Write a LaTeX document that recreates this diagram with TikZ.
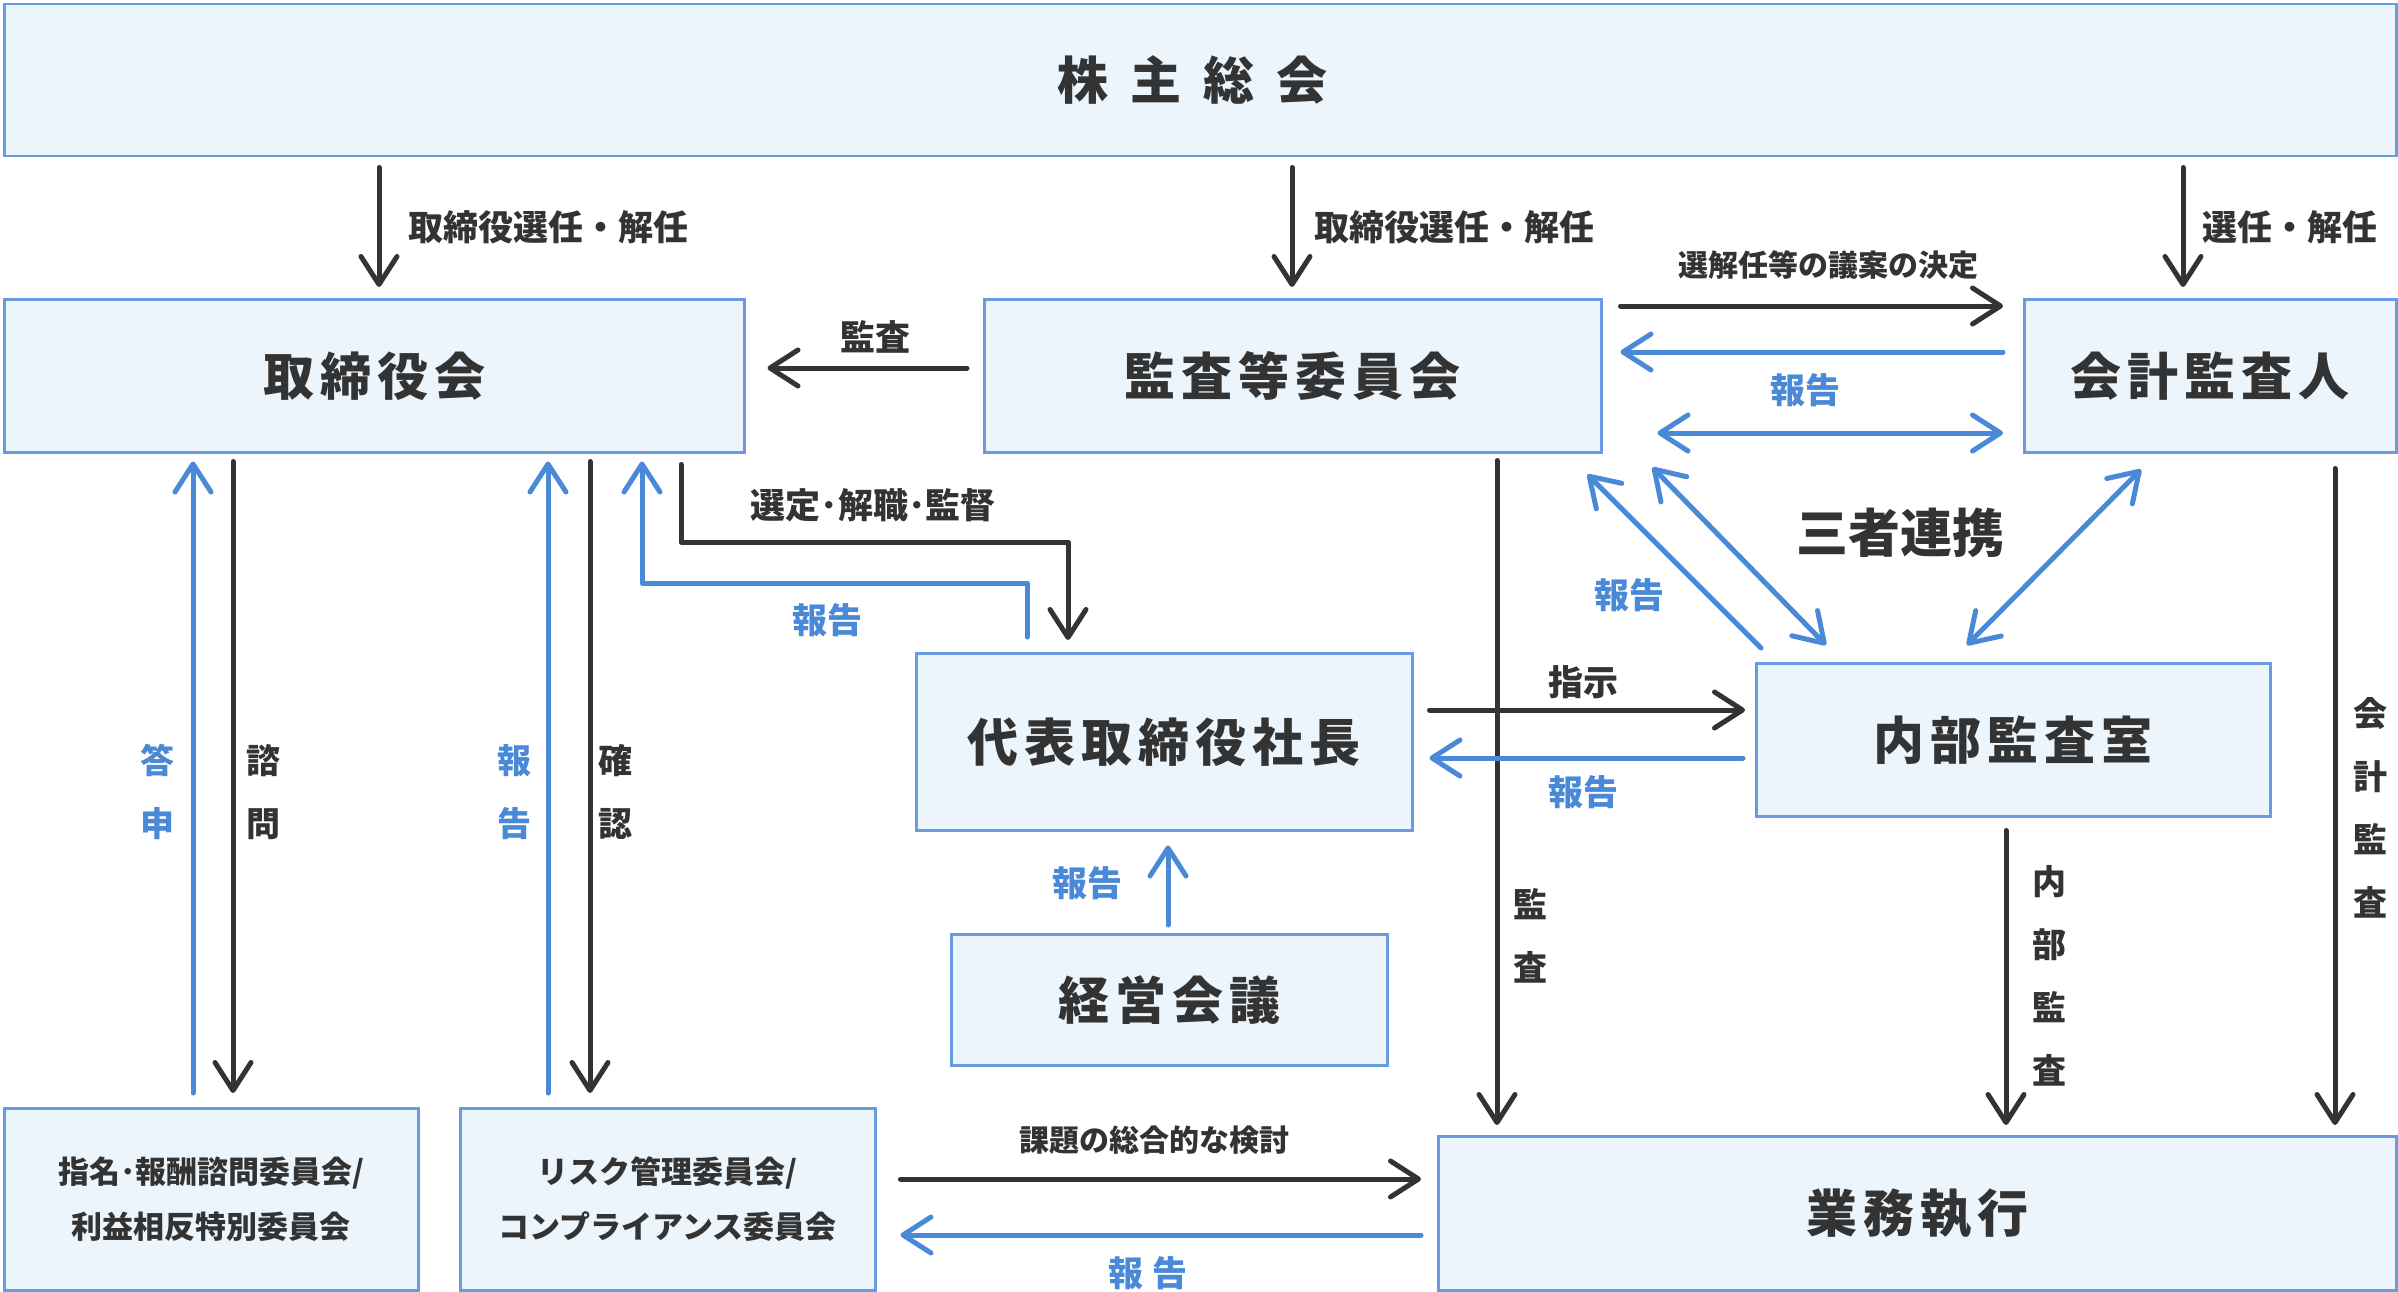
\documentclass[tikz,border=0pt]{standalone}
\usepackage{fontspec}
\setmainfont{Noto Sans CJK JP}
\usetikzlibrary{arrows.meta,calc}
\definecolor{tx}{HTML}{333333}
\definecolor{bl}{HTML}{4A88D8}
\definecolor{bd}{HTML}{6A9BE0}
\definecolor{bf}{HTML}{ECF5FC}
\newcommand\kspc{\hspace{6pt}}
\newcommand\wspc{\hspace{22pt}}
\tikzset{
  box/.style={draw=bd, fill=bf, line width=2.5pt, inner sep=0pt, anchor=north west,
    text=tx, font=\fontsize{51}{60}\selectfont\bfseries},
  small/.style={box, align=center, font=\fontsize{31}{55}\selectfont\bfseries},
  tipb/.tip={Straight Barb[length=28pt,width=36pt,line width=5pt,round]},
  arr/.style={line width=5pt, draw=tx, -tipb, line cap=round, line join=round},
  barr/.style={arr, draw=bl},
  dbarr/.style={line width=5pt, draw=bl, tipb-tipb, line cap=round, line join=round},
  lab/.style={text=tx, inner sep=0pt, font=\fontsize{35}{42}\selectfont\bfseries},
  blab/.style={lab, text=bl},
  slab/.style={lab, font=\fontsize{30}{36}\selectfont\bfseries},
  vlab/.style={lab, align=center, font=\fontsize{34}{63}\selectfont\bfseries},
  bvlab/.style={vlab, text=bl},
}
\begin{document}
\begin{tikzpicture}[x=1pt,y=-1pt]
\useasboundingbox (0,0) rectangle (2398,1292);
\fill[white] (0,0) rectangle (2398,1292);

% boxes
\node[box, minimum width=2392pt, minimum height=152pt] (sh) at (3,3) {株\wspc 主\wspc 総\wspc 会\kern16pt\relax};
\node[box, minimum width=740pt, minimum height=153pt] (tb) at (3,298) {取\kspc 締\kspc 役\kspc 会};
\node[box, minimum width=617pt, minimum height=153pt] (ka) at (983,298) {監\kspc 査\kspc 等\kspc 委\kspc 員\kspc 会};
\node[box, minimum width=372pt, minimum height=153pt] (ac) at (2023,298) {会\kspc 計\kspc 監\kspc 査\kspc 人};
\node[box, minimum width=496pt, minimum height=177pt] (ceo) at (915,652) {代\kspc 表\kspc 取\kspc 締\kspc 役\kspc 社\kspc 長};
\node[box, minimum width=436pt, minimum height=131pt] (mm) at (950,933) {経\kspc 営\kspc 会\kspc 議};
\node[box, minimum width=514pt, minimum height=153pt] (ia) at (1755,662) {内\kspc 部\kspc 監\kspc 査\kspc 室};
\node[small, minimum width=414pt, minimum height=182pt] (nc) at (3,1107) {指名･報酬諮問委員会/\\利益相反特別委員会};
\node[small, minimum width=415pt, minimum height=182pt] (rc) at (459,1107) {リスク管理委員会/\\コンプライアンス委員会};
\node[box, minimum width=958pt, minimum height=154pt] (ge) at (1437,1135) {\raisebox{-6pt}{業\kspc 務\kspc 執\kspc 行}};

% x / y helper coordinates
\coordinate (x1) at (379,0);
\coordinate (x2) at (1292,0);
\coordinate (x3) at (2183,0);
\coordinate (y4) at (0,368);
\coordinate (y5) at (0,306);
\coordinate (y6) at (0,352);
\coordinate (y7) at (0,433);
\coordinate (xv1) at (1497,0);
\coordinate (xv2) at (2006,0);
\coordinate (xv3) at (2335,0);
\coordinate (yh1) at (0,710);
\coordinate (yh2) at (0,758);
\coordinate (xm) at (1168,0);
\coordinate (m1) at (681,542);
\coordinate (m2) at (1068,542);
\coordinate (n1) at (1027,583);
\coordinate (n2) at (642,583);
\coordinate (xl1) at (193,0);
\coordinate (xl2) at (233,0);
\coordinate (xl3) at (548,0);
\coordinate (xl4) at (590,0);
\coordinate (yb1) at (0,1179);
\coordinate (yb2) at (0,1235);

% top arrows
\draw[arr, shorten <=10pt, shorten >=11pt] (sh.south -| x1) -- (tb.north -| x1);
\draw[arr, shorten <=10pt, shorten >=11pt] (sh.south -| x2) -- (ka.north -| x2);
\draw[arr, shorten <=10pt, shorten >=11pt] (sh.south -| x3) -- (ac.north -| x3);
\node[lab, anchor=west] (l1) at (408,227) {取締役選任・解任};
\node[lab, anchor=west] (l2) at (1314,227) {取締役選任・解任};
\node[lab, anchor=west] (l3) at (2202,227) {選任・解任};

% kansa -> torishimariyakukai
\draw[arr, shorten <=16pt, shorten >=22pt] (ka.west |- y4) -- (tb.east |- y4);
\node[lab] (l4) at (875,337) {監査};

% ka <-> ac
\draw[arr, shorten <=18pt, shorten >=20pt] (ka.east |- y5) -- (ac.west |- y5);
\node[slab] (l5) at (1828,265) {選解任等の議案の決定};
\draw[barr, shorten <=20pt, shorten >=18pt] (ac.west |- y6) -- (ka.east |- y6);
\node[blab] (l6) at (1805,390) {報告};
\draw[dbarr, shorten <=55pt, shorten >=20pt] (ka.east |- y7) -- (ac.west |- y7);

% three-way cooperation
\draw[barr] ($(ia.north west)+(6,-14)$) -- ($(ka.south east)+(-15,21)$);
\draw[dbarr] ($(ka.south east)+(50,14)$) -- ($(ia.north west)+(71,-17)$);
\draw[dbarr] ($(ac.south west)+(118,16)$) -- ($(ia.north west)+(212,-17)$);
\node[lab, font=\fontsize{52}{60}\selectfont\bfseries] (l7) at (1900,533) {三者連携};
\node[blab] (l8) at (1629,595) {報告};

% verticals to gyomu shikko
\draw[arr, shorten <=7pt, shorten >=10pt] (ka.south -| xv1) -- (ge.north -| xv1);
\draw[arr, shorten <=13pt, shorten >=10pt] (ia.south -| xv2) -- (ge.north -| xv2);
\draw[arr, shorten <=15pt, shorten >=10pt] (ac.south -| xv3) -- (ge.north -| xv3);
\node[vlab] (l9) at (1530,936) {監\\査};
\node[vlab] (l10) at (2049,976) {内\\部\\監\\査};
\node[vlab] (l11) at (2370,808) {会\\計\\監\\査};

% ceo <-> ia
\draw[arr, shorten <=16pt, shorten >=10pt] (ceo.east |- yh1) -- (ia.west |- yh1);
\node[lab] (l12) at (1583,682) {指示};
\draw[barr, shorten <=12pt, shorten >=16pt] (ia.west |- yh2) -- (ceo.east |- yh2);
\node[blab] (l13) at (1583,792) {報告};

% keiei kaigi -> ceo
\draw[barr, shorten <=8pt, shorten >=14pt] (mm.north -| xm) -- (ceo.south -| xm);
\node[blab] (l14) at (1087,883) {報告};

% elbows
\draw[arr, shorten <=11pt, shorten >=12pt] (tb.south -| m1) -- (m1) -- (m2) -- (ceo.north -| m2);
\node[lab] (l15) at (873,505) {選定･解職･監督};
\draw[barr, shorten <=15pt, shorten >=8pt] (ceo.north -| n1) -- (n1) -- (n2) -- (tb.south -| n2);
\node[blab] (l16) at (827,620) {報告};

% left verticals
\draw[barr, shorten <=14pt, shorten >=8pt] (nc.north -| xl1) -- (tb.south -| xl1);
\draw[arr, shorten <=8pt, shorten >=14pt] (tb.south -| xl2) -- (nc.north -| xl2);
\draw[barr, shorten <=14pt, shorten >=8pt] (rc.north -| xl3) -- (tb.south -| xl3);
\draw[arr, shorten <=8pt, shorten >=14pt] (tb.south -| xl4) -- (rc.north -| xl4);
\node[bvlab] (l17) at (157,792) {答\\申};
\node[vlab] (l18) at (263,792) {諮\\問};
\node[bvlab] (l19) at (514,792) {報\\告};
\node[vlab] (l20) at (615,792) {確\\認};

% bottom
\draw[arr, shorten <=24pt, shorten >=16pt] (rc.east |- yb1) -- (ge.west |- yb1);
\node[slab] (l21) at (1154,1140) {課題の総合的な検討};
\draw[barr, shorten <=16pt, shorten >=24pt] (ge.west |- yb2) -- (rc.east |- yb2);
\node[blab] (l22) at (1148,1273) {報\hspace{10pt}告};
\end{tikzpicture}
\end{document}
